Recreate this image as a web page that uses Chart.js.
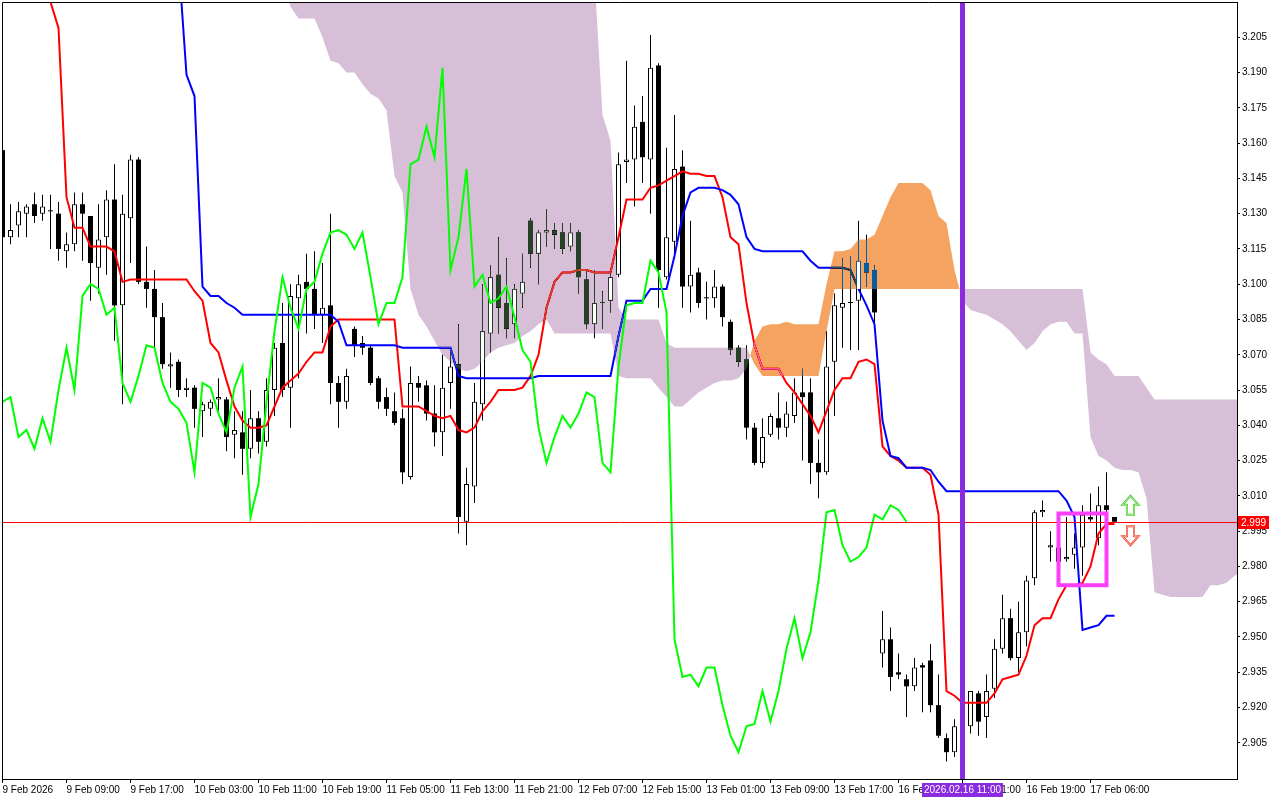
<!DOCTYPE html>
<html>
<head>
<meta charset="utf-8">
<script src="https://cdn.jsdelivr.net/npm/chart.js@4.4.1/dist/chart.umd.min.js"></script>
<style>
  html, body { margin: 0; padding: 0; background: #fff; }
  #wrap { width: 1280px; height: 800px; }
</style>
</head>
<body>
<div id="wrap"><canvas id="ichimoku" width="1280" height="800"></canvas></div>
<script>
// H1 bars, 9 Feb 2026 00:00 .. 17 Feb 2026, one entry per bar
const opens = [
  3.157,3.120,3.125,3.130,3.134,3.130,3.131,3.130,3.114,3.117,
  3.134,3.129,3.107,3.120,3.136,3.091,3.128,3.153,3.101,3.098,
  3.086,3.065,3.067,3.055,3.056,3.046,3.047,3.051,3.051,3.036,
  3.037,3.030,3.043,3.033,3.055,3.075,3.056,3.094,3.101,3.098,
  3.087,3.091,3.058,3.050,3.081,3.075,3.073,3.060,3.052,3.046,
  3.043,3.018,3.058,3.057,3.045,3.037,3.058,3.066,2.999,3.014,
  3.049,3.079,3.104,3.092,3.083,3.096,3.127,3.113,3.122,3.123,
  3.122,3.116,3.122,3.102,3.083,3.092,3.093,3.104,3.152,3.153,
  3.169,3.153,3.193,3.103,3.118,3.150,3.099,3.105,3.094,3.094,
  3.099,3.084,3.073,3.068,3.039,3.024,3.036,3.043,3.039,3.044,
  3.054,3.054,3.024,3.020,3.067,3.090,3.092,3.093,3.109,3.106,
  2.943,2.949,2.935,2.932,2.929,2.938,2.940,2.921,2.907,2.901,
  2.912,2.912,2.926,2.916,2.928,2.945,2.958,2.941,2.952,2.975,
  3.003,2.988,2.988,2.983,2.985,2.988,3.001,2.992,3.006,3.001
];
const highs = [
  3.158,3.134,3.135,3.134,3.139,3.138,3.138,3.135,3.122,3.139,
  3.139,3.129,3.134,3.140,3.151,3.138,3.155,3.154,3.116,3.106,
  3.092,3.071,3.068,3.060,3.057,3.050,3.051,3.060,3.052,3.046,
  3.046,3.055,3.046,3.060,3.075,3.092,3.100,3.104,3.113,3.114,
  3.109,3.130,3.061,3.064,3.082,3.078,3.074,3.061,3.056,3.054,
  3.047,3.065,3.061,3.059,3.057,3.070,3.071,3.083,3.022,3.058,
  3.100,3.108,3.120,3.111,3.100,3.113,3.128,3.123,3.132,3.126,
  3.126,3.126,3.123,3.106,3.106,3.097,3.105,3.156,3.195,3.176,
  3.180,3.206,3.194,3.158,3.172,3.157,3.127,3.107,3.101,3.106,
  3.100,3.085,3.074,3.074,3.041,3.043,3.045,3.054,3.050,3.060,
  3.064,3.060,3.034,3.080,3.096,3.111,3.112,3.127,3.121,3.108,
  2.961,2.954,2.943,2.934,2.941,2.939,2.947,2.934,2.909,2.915,
  2.918,2.927,2.927,2.934,2.949,2.968,2.962,2.965,2.976,3.004,
  3.008,2.995,2.990,3.001,2.994,3.006,3.011,3.014,3.020,3.001
];
const lows = [
  3.119,3.117,3.120,3.120,3.126,3.127,3.115,3.110,3.107,3.114,
  3.110,3.093,3.096,3.104,3.076,3.049,3.109,3.100,3.090,3.072,
  3.064,3.056,3.052,3.052,3.039,3.035,3.044,3.046,3.029,3.026,
  3.019,3.026,3.028,3.031,3.044,3.052,3.039,3.060,3.079,3.081,
  3.075,3.049,3.039,3.047,3.069,3.070,3.057,3.047,3.044,3.040,
  3.015,3.017,3.050,3.042,3.031,3.027,3.047,2.994,2.989,3.007,
  3.042,3.071,3.079,3.077,3.077,3.090,3.107,3.100,3.116,3.115,
  3.113,3.114,3.096,3.081,3.077,3.081,3.088,3.103,3.143,3.133,
  3.143,3.130,3.090,3.102,3.113,3.090,3.088,3.090,3.085,3.090,
  3.082,3.070,3.065,3.034,3.023,3.022,3.035,3.034,3.035,3.041,
  3.025,3.015,3.009,3.019,3.044,3.073,3.072,3.072,3.099,3.082,
  2.937,2.927,2.932,2.916,2.927,2.918,2.918,2.907,2.897,2.899,
  2.906,2.909,2.908,2.907,2.924,2.943,2.940,2.935,2.946,2.972,
  3.001,2.982,2.979,2.982,2.979,2.976,2.999,2.989,3.003,2.999
];
const closes = [
  3.120,3.123,3.131,3.133,3.129,3.133,3.131,3.115,3.117,3.134,
  3.130,3.109,3.119,3.136,3.091,3.130,3.153,3.101,3.098,3.086,
  3.066,3.066,3.055,3.056,3.047,3.049,3.050,3.052,3.035,3.038,
  3.030,3.043,3.033,3.055,3.073,3.055,3.095,3.100,3.098,3.087,
  3.090,3.058,3.050,3.061,3.074,3.073,3.058,3.050,3.047,3.041,
  3.020,3.058,3.056,3.045,3.037,3.056,3.065,3.001,3.015,3.050,
  3.080,3.103,3.090,3.081,3.098,3.101,3.113,3.122,3.123,3.121,
  3.115,3.122,3.103,3.083,3.092,3.092,3.103,3.151,3.153,3.167,
  3.154,3.192,3.106,3.120,3.149,3.099,3.104,3.092,3.094,3.099,
  3.086,3.072,3.067,3.039,3.024,3.035,3.044,3.039,3.045,3.054,
  3.052,3.024,3.020,3.065,3.091,3.092,3.092,3.110,3.105,3.088,
  2.949,2.933,2.934,2.929,2.937,2.937,2.921,2.908,2.901,2.912,
  2.913,2.927,2.914,2.927,2.945,2.958,2.941,2.952,2.974,3.003,
  3.004,2.989,2.982,2.984,2.988,3.002,3.000,3.006,3.004,2.999
];

// Ichimoku lines (null = above the visible price range)
const tenkan = [
  null,null,null,null,null,3.246,3.220,3.209,3.137,3.124,
  3.124,3.116,3.116,3.116,3.114,3.101,3.102,3.102,3.102,3.102,
  3.102,3.102,3.102,3.102,3.097,3.093,3.075,3.071,3.059,3.048,
  3.042,3.039,3.039,3.040,3.048,3.056,3.059,3.062,3.067,3.071,
  3.071,3.082,3.085,3.085,3.085,3.085,3.085,3.085,3.085,3.085,
  3.048,3.048,3.048,3.046,3.044,3.043,3.044,3.038,3.037,3.039,
  3.046,3.050,3.055,3.055,3.055,3.056,3.061,3.070,3.090,3.101,
  3.105,3.105,3.106,3.106,3.105,3.105,3.105,3.120,3.136,3.136,
  3.136,3.141,3.142,3.144,3.146,3.148,3.147,3.147,3.146,3.146,
  3.137,3.120,3.117,3.092,3.074,3.064,3.064,3.064,3.058,3.054,
  3.049,3.044,3.037,3.046,3.055,3.060,3.060,3.067,3.068,3.066,
  3.031,3.027,3.025,3.022,3.022,3.022,3.019,3.002,2.927,2.925,
  2.922,2.922,2.922,2.922,2.926,2.932,2.933,2.934,2.942,2.955,
  2.958,2.958,2.966,2.972,2.972,2.973,2.980,2.994,2.998,2.998
];
const kijun = [
  null,null,null,null,null,null,null,null,null,null,
  null,null,null,null,null,null,null,null,null,null,
  null,null,3.238,3.189,3.180,3.099,3.095,3.095,3.092,3.090,
  3.087,3.087,3.087,3.087,3.087,3.087,3.087,3.087,3.087,3.087,
  3.087,3.087,3.084,3.074,3.074,3.074,3.074,3.074,3.074,3.074,
  3.073,3.073,3.073,3.073,3.073,3.073,3.073,3.061,3.060,3.060,
  3.060,3.060,3.060,3.060,3.060,3.060,3.060,3.061,3.061,3.061,
  3.061,3.061,3.061,3.061,3.061,3.061,3.061,3.078,3.093,3.093,
  3.093,3.098,3.098,3.098,3.112,3.129,3.139,3.141,3.141,3.141,
  3.140,3.138,3.134,3.120,3.115,3.114,3.114,3.114,3.114,3.114,
  3.114,3.110,3.107,3.107,3.107,3.107,3.106,3.098,3.091,3.083,
  3.042,3.027,3.026,3.022,3.022,3.022,3.021,3.016,3.012,3.012,
  3.012,3.012,3.012,3.012,3.012,3.012,3.012,3.012,3.012,3.012,
  3.012,3.012,3.012,3.008,3.001,2.953,2.954,2.955,2.959,2.959
];
// Senkou spans, already plotted 26 bars ahead (runs past the last candle)
const spanA = [
  null,null,null,null,null,null,null,null,null,null,
  null,null,null,null,null,null,null,null,null,null,
  null,null,null,null,null,null,null,null,null,null,
  null,null,null,null,null,3.229,3.218,3.213,3.213,3.213,
  3.205,3.195,3.194,3.190,3.190,3.185,3.181,3.179,3.174,3.146,
  3.139,3.098,3.087,3.082,3.076,3.070,3.067,3.064,3.063,3.064,
  3.067,3.071,3.073,3.074,3.075,3.078,3.080,3.083,3.085,3.079,
  3.079,3.079,3.079,3.079,3.079,3.079,3.079,3.061,3.060,3.060,
  3.060,3.060,3.056,3.052,3.048,3.048,3.051,3.054,3.056,3.058,
  3.059,3.059,3.060,3.064,3.076,3.082,3.083,3.083,3.084,3.083,
  3.083,3.083,3.083,3.100,3.114,3.114,3.115,3.119,3.119,3.121,
  3.129,3.137,3.143,3.143,3.143,3.143,3.140,3.129,3.126,3.106,
  3.093,3.089,3.088,3.087,3.085,3.083,3.080,3.076,3.072,3.075,
  3.080,3.083,3.084,3.084,3.079,3.079,3.035,3.027,3.025,3.022,
  3.021,3.021,3.020,3.009,2.969,2.968,2.967,2.967,2.967,2.967,
  2.967,2.972,2.972,2.973,2.976,2.978
];
const spanB = [
  null,null,null,null,null,null,null,null,null,null,
  null,null,null,null,null,null,null,null,null,null,
  null,null,null,null,null,null,null,null,null,null,
  null,null,null,null,null,3.236,3.236,3.236,3.236,3.236,
  3.236,3.236,3.236,3.236,3.236,3.236,3.236,3.236,3.236,3.236,
  3.236,3.236,3.236,3.236,3.236,3.236,3.236,3.236,3.236,3.236,
  3.236,3.236,3.236,3.236,3.236,3.236,3.236,3.236,3.236,3.236,
  3.236,3.236,3.236,3.236,3.231,3.172,3.161,3.090,3.085,3.085,
  3.085,3.085,3.085,3.075,3.073,3.073,3.073,3.073,3.073,3.073,
  3.073,3.073,3.073,3.073,3.066,3.061,3.061,3.061,3.061,3.061,
  3.061,3.061,3.061,3.080,3.098,3.098,3.098,3.098,3.098,3.098,
  3.098,3.098,3.098,3.098,3.098,3.098,3.098,3.098,3.098,3.098,
  3.098,3.098,3.098,3.098,3.098,3.098,3.098,3.098,3.098,3.098,
  3.098,3.098,3.098,3.098,3.098,3.098,3.071,3.068,3.066,3.061,
  3.061,3.061,3.061,3.056,3.051,3.051,3.051,3.051,3.051,3.051,
  3.051,3.051,3.051,3.051,3.051,3.051
];

const timeTicks = [0, 8, 16, 24, 32, 40, 48, 56, 64, 72, 80, 88, 96, 104, 112, 120, 128, 136];
const timeLabels = ['9 Feb 2026', '9 Feb 09:00', '9 Feb 17:00', '10 Feb 03:00', '10 Feb 11:00',
  '10 Feb 19:00', '11 Feb 05:00', '11 Feb 13:00', '11 Feb 21:00', '12 Feb 07:00', '12 Feb 15:00',
  '13 Feb 01:00', '13 Feb 09:00', '13 Feb 17:00', '16 Feb 03:00', '16 Feb 11:00', '16 Feb 19:00',
  '17 Feb 06:00'];
const priceTicks = [2.905, 2.920, 2.935, 2.950, 2.965, 2.980, 2.995, 3.010, 3.025, 3.040, 3.055,
  3.070, 3.085, 3.100, 3.115, 3.130, 3.145, 3.160, 3.175, 3.190, 3.205];

const bidPrice = 2.999;
const markerBar = 120;
const markerLabel = '2026.02.16 11:00';
const boxBars = [132, 138];
const boxPrices = [2.972, 3.0025];
const arrowUp = { bar: 141, price: 3.010 };
const arrowDown = { bar: 141, price: 2.989 };

const FONT = '"Liberation Sans", Arial, sans-serif';

// candle pieces
const idx = opens.map((_, i) => i);
const bullIdx = idx.filter(i => closes[i] > opens[i]);
const bearIdx = idx.filter(i => closes[i] <= opens[i]);
const wickData = idx.map(i => ({ x: i, y: [lows[i], highs[i]] }));
const bearData = bearIdx.map(i => ({ x: i, y: [opens[i], closes[i]] }));
const bullData = bullIdx.map(i => ({ x: i, y: [opens[i], closes[i]] }));
const asPoints = arr => arr.map((v, i) => ({ x: i, y: v }));
const chikou = closes.slice(26).map((v, i) => ({ x: i, y: v }));

// MT4 draws the kumo as an xor-ish histogram: white->colour, black->inverse colour
const THISTLE_INV = 'rgb(39,64,39)';
const SANDY_INV = 'rgb(11,91,159)';

// the canvas needs an opaque white ground for the 'difference' blend
const whiteGround = {
  id: 'whiteGround',
  beforeDraw(chart) {
    const { ctx, width, height } = chart;
    ctx.save();
    ctx.fillStyle = '#fff';
    ctx.fillRect(0, 0, width, height);
    ctx.restore();
  }
};

const kumo = {
  id: 'kumo',
  afterDatasetDraw(chart, args) {
    if (args.index !== 4) return; // right after the kijun line
    const { ctx, chartArea: a, scales: { x, y } } = chart;
    const purple = new Path2D();
    const orange = new Path2D();
    for (let i = 0; i + 1 < spanA.length; i++) {
      const a0 = spanA[i], b0 = spanB[i], a1 = spanA[i + 1], b1 = spanB[i + 1];
      if (a0 == null || b0 == null || a1 == null || b1 == null) continue;
      const x0 = x.getPixelForValue(i), x1 = x.getPixelForValue(i + 1);
      const ya0 = y.getPixelForValue(a0), yb0 = y.getPixelForValue(b0);
      const ya1 = y.getPixelForValue(a1), yb1 = y.getPixelForValue(b1);
      const d0 = a0 - b0, d1 = a1 - b1;
      if ((d0 >= 0 && d1 >= 0) || (d0 <= 0 && d1 <= 0)) {
        const p = (d0 + d1) > 0 ? orange : purple;
        p.moveTo(x0, ya0); p.lineTo(x1, ya1); p.lineTo(x1, yb1); p.lineTo(x0, yb0); p.closePath();
      } else {
        const t = d0 / (d0 - d1);
        const xc = x0 + t * (x1 - x0), yc = ya0 + t * (ya1 - ya0);
        const p0 = d0 > 0 ? orange : purple, p1 = d0 > 0 ? purple : orange;
        p0.moveTo(x0, ya0); p0.lineTo(xc, yc); p0.lineTo(x0, yb0); p0.closePath();
        p1.moveTo(xc, yc); p1.lineTo(x1, ya1); p1.lineTo(x1, yb1); p1.closePath();
      }
    }
    ctx.save();
    ctx.beginPath();
    ctx.rect(a.left, a.top, a.right - a.left, a.bottom - a.top);
    ctx.clip();
    ctx.globalCompositeOperation = 'difference';
    ctx.fillStyle = THISTLE_INV;
    ctx.fill(purple);
    ctx.fillStyle = SANDY_INV;
    ctx.fill(orange);
    ctx.globalCompositeOperation = 'source-over';
    // white candle bodies stay white inside the cloud
    const both = new Path2D();
    both.addPath(purple);
    both.addPath(orange);
    ctx.clip(both);
    ctx.fillStyle = '#fff';
    chart.getDatasetMeta(2).data.forEach(el => {
      const p = el.getProps(['x', 'y', 'base', 'width'], true);
      const top = Math.min(p.y, p.base) + 1, bot = Math.max(p.y, p.base) - 1;
      if (bot > top) ctx.fillRect(p.x - p.width / 2 + 1, top, p.width - 2, bot - top);
    });
    ctx.restore();
  }
};

function drawArrow(ctx, cx, tipY, dir, stroke, inner) {
  const s = dir === 'up' ? 1 : -1;
  ctx.beginPath();
  ctx.moveTo(cx, tipY);
  ctx.lineTo(cx + 8, tipY + s * 9);
  ctx.lineTo(cx + 3.5, tipY + s * 9);
  ctx.lineTo(cx + 3.5, tipY + s * 19);
  ctx.lineTo(cx - 3.5, tipY + s * 19);
  ctx.lineTo(cx - 3.5, tipY + s * 9);
  ctx.lineTo(cx - 8, tipY + s * 9);
  ctx.closePath();
  ctx.fillStyle = '#fff';
  ctx.fill();
  ctx.lineWidth = 2;
  ctx.strokeStyle = stroke;
  ctx.stroke();
  ctx.lineWidth = 1;
  ctx.strokeStyle = inner;
  ctx.stroke();
}

const overlays = {
  id: 'overlays',
  afterDatasetsDraw(chart) {
    const { ctx, chartArea: a, scales: { x, y } } = chart;
    ctx.save();
    ctx.beginPath();
    ctx.rect(a.left, a.top, a.right - a.left, a.bottom - a.top);
    ctx.clip();

    const by = Math.round(y.getPixelForValue(bidPrice)) + 0.5;
    ctx.strokeStyle = '#ff0000';
    ctx.lineWidth = 1;
    ctx.beginPath(); ctx.moveTo(a.left, by); ctx.lineTo(a.right, by); ctx.stroke();

    const vx = x.getPixelForValue(markerBar);
    ctx.strokeStyle = '#8a2be2';
    ctx.lineWidth = 5;
    ctx.beginPath(); ctx.moveTo(vx, a.top); ctx.lineTo(vx, a.bottom); ctx.stroke();

    const rx0 = x.getPixelForValue(boxBars[0]), rx1 = x.getPixelForValue(boxBars[1]);
    const ry0 = y.getPixelForValue(boxPrices[1]), ry1 = y.getPixelForValue(boxPrices[0]);
    ctx.strokeStyle = '#fb3ffb';
    ctx.lineWidth = 4;
    ctx.strokeRect(rx0, ry0, rx1 - rx0, ry1 - ry0);

    drawArrow(ctx, x.getPixelForValue(arrowUp.bar), y.getPixelForValue(arrowUp.price), 'up', '#3cc83c', '#b6f08c');
    drawArrow(ctx, x.getPixelForValue(arrowDown.bar), y.getPixelForValue(arrowDown.price), 'down', '#f03c2c', '#ffb0a0');
    ctx.restore();

    // chart frame, left and top
    ctx.save();
    ctx.strokeStyle = '#000';
    ctx.lineWidth = 1;
    ctx.beginPath();
    ctx.moveTo(a.left + 0.5, a.bottom);
    ctx.lineTo(a.left + 0.5, a.top + 0.5);
    ctx.lineTo(a.right, a.top + 0.5);
    ctx.stroke();
    ctx.restore();
  },
  afterDraw(chart) {
    const { ctx, chartArea: a, scales: { x, y } } = chart;
    ctx.save();
    ctx.font = '10px ' + FONT;
    ctx.textBaseline = 'middle';

    const by = Math.round(y.getPixelForValue(bidPrice)) + 0.5;
    ctx.fillStyle = '#ff0000';
    ctx.fillRect(a.right + 1, by - 6.5, 31, 13);
    ctx.fillStyle = '#fff';
    ctx.textAlign = 'left';
    ctx.fillText(bidPrice.toFixed(3), a.right + 4, by + 0.5);

    const vx = x.getPixelForValue(markerBar);
    const w = ctx.measureText(markerLabel).width + 4;
    ctx.fillStyle = '#8a2be2';
    ctx.fillRect(Math.round(vx - w / 2), a.bottom + 4, Math.round(w), 14);
    ctx.fillStyle = '#fff';
    ctx.textAlign = 'center';
    ctx.fillText(markerLabel, vx, a.bottom + 11.5);
    ctx.restore();
  }
};

const lineStyle = { type: 'line', borderWidth: 2, pointRadius: 0, tension: 0, clip: 0 };

new Chart(document.getElementById('ichimoku'), {
  type: 'line',
  data: {
    datasets: [
      { type: 'bar', label: 'wick', data: wickData, backgroundColor: '#000', borderWidth: 0,
        barThickness: 1, minBarLength: 1, grouped: false, inflateAmount: 0, order: 10, clip: 0 },
      { type: 'bar', label: 'bear', data: bearData, backgroundColor: '#000', borderWidth: 0,
        barThickness: 5, minBarLength: 1, grouped: false, inflateAmount: 0, order: 9, clip: 0 },
      { type: 'bar', label: 'bull', data: bullData, backgroundColor: '#fff', borderColor: '#000',
        borderWidth: 1, borderSkipped: false, barThickness: 5, minBarLength: 1, grouped: false,
        inflateAmount: 0, order: 9, clip: 0 },
      { ...lineStyle, label: 'Tenkan-sen', data: asPoints(tenkan), borderColor: '#ff0000', order: 8 },
      { ...lineStyle, label: 'Kijun-sen', data: asPoints(kijun), borderColor: '#0000ff', order: 7 },
      { ...lineStyle, label: 'Chikou Span', data: chikou, borderColor: '#00ff00', order: 5 }
    ]
  },
  options: {
    responsive: false,
    animation: false,
    devicePixelRatio: 1,
    events: [],
    layout: { padding: { left: 2, top: 2, right: 0, bottom: 0 } },
    plugins: { legend: { display: false }, tooltip: { enabled: false } },
    scales: {
      x: {
        type: 'linear', min: -0.0625, max: 154.3125, offset: false,
        grid: { display: true, drawOnChartArea: false, drawTicks: true, tickLength: 4, color: '#000', offset: false },
        border: { display: true, color: '#000', width: 1 },
        ticks: { autoSkip: false, maxRotation: 0, minRotation: 0, align: 'start', padding: 1, color: '#000',
          font: { family: FONT, size: 10 }, callback: (v, i) => timeLabels[i] },
        afterBuildTicks: s => { s.ticks = timeTicks.map(v => ({ value: v })); },
        afterFit: s => { s.height = 21; s.paddingLeft = 0; s.paddingRight = 0; }
      },
      y: {
        type: 'linear', position: 'right', min: 2.8896, max: 3.2200,
        grid: { display: true, drawOnChartArea: false, drawTicks: true, tickLength: 3, color: '#000' },
        border: { display: true, color: '#000', width: 1 },
        ticks: { padding: 2, color: '#000', font: { family: FONT, size: 10 }, callback: v => v.toFixed(3) },
        afterBuildTicks: s => { s.ticks = priceTicks.map(v => ({ value: v })); },
        afterFit: s => { s.width = 43; s.paddingTop = 0; s.paddingBottom = 0; }
      }
    }
  },
  plugins: [whiteGround, kumo, overlays]
});
</script>
</body>
</html>
